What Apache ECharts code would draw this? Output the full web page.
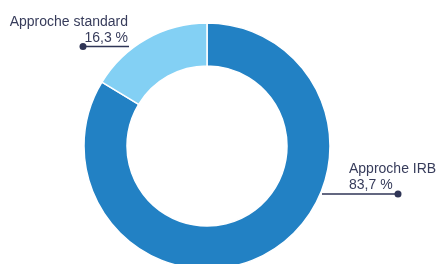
<!DOCTYPE html>
<html>
<head>
<meta charset="utf-8">
<script src="https://cdn.jsdelivr.net/npm/echarts@6/dist/echarts.min.js"></script>
<style>
  html, body { margin: 0; padding: 0; background: #fff; }
  #chart { width: 438px; height: 264px; }
</style>
</head>
<body>
<div id="chart"></div>
<script>
var categories = ['Approche IRB', 'Approche standard']
var values = [83.7, 16.3]
var colors = ['#2281c4', '#83d0f4']

// label placement (line y, text anchor, line ends)
var labelPos = [
  { x: 349, y: 194, align: 'left', line: [[322, 194], [360, 194], [398, 194]], dot: [398, 194] },
  { x: 128, y: 46.5, align: 'right', line: [[129, 46.5], [100, 46.5], [83, 46.5]], dot: [83, 46.5] }
]

var chart = echarts.init(document.getElementById('chart'))

chart.setOption({
  animation: false,
  color: colors,
  series: [{
    type: 'pie',
    center: [207, 146],
    radius: [80, 123],
    startAngle: 90,
    clockwise: true,
    itemStyle: {
      borderColor: '#fff',
      borderWidth: 1.5
    },
    label: {
      show: true,
      position: 'outside',
      overflow: 'none',
      edgeDistance: 0,
      color: '#373c5b',
      fontFamily: 'Liberation Sans, Arial, sans-serif',
      fontSize: 14,
      lineHeight: 16,
      formatter: function (p) {
        return p.name + '\n' + p.value.toFixed(1).replace('.', ',') + ' %'
      }
    },
    labelLine: {
      show: true,
      lineStyle: { color: '#2f3556', width: 1.3 }
    },
    labelLayout: function (params) {
      var pos = labelPos[params.dataIndex]
      return {
        x: pos.x,
        y: pos.y - 0.5,
        align: pos.align,
        verticalAlign: 'bottom',
        width: 140,
        labelLinePoints: pos.line
      }
    },
    emphasis: { disabled: true },
    data: categories.map(function (name, i) {
      return { name: name, value: values[i] }
    })
  }],
  graphic: labelPos.map(function (pos) {
    return {
      type: 'circle',
      shape: { cx: pos.dot[0], cy: pos.dot[1], r: 3.5 },
      style: { fill: '#2f3556' },
      z: 100
    }
  })
})
</script>
</body>
</html>
